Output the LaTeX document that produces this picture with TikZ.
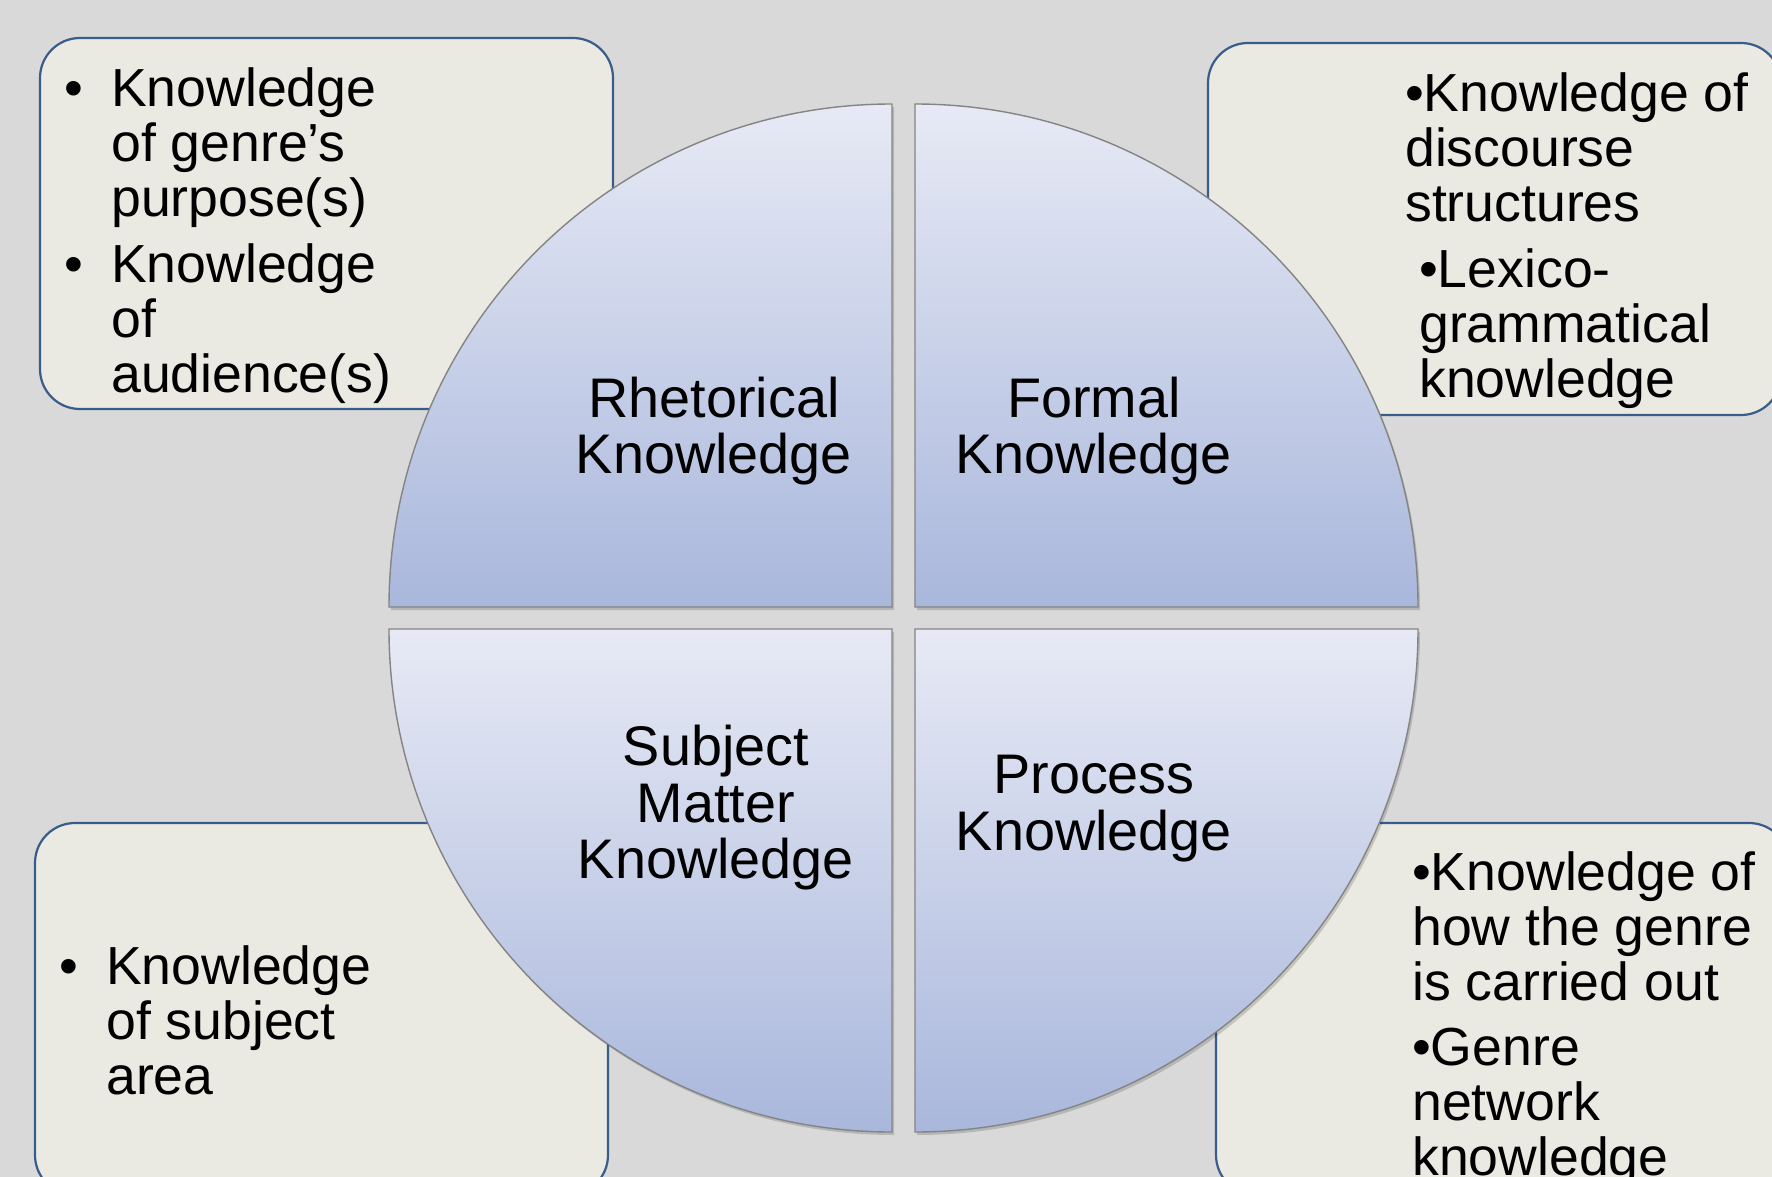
\documentclass[tikz,border=0pt]{standalone}
\usepackage{fontspec}
\setmainfont{Liberation Sans}
\definecolor{bg}{HTML}{D9D9D9}
\definecolor{boxfill}{HTML}{EAEAE2}
\definecolor{boxline}{HTML}{385D8A}
\definecolor{slicetop}{HTML}{E7EAF5}
\definecolor{slicebot}{HTML}{A9B7DC}
\definecolor{sliceline}{HTML}{848484}
\begin{document}
\begin{tikzpicture}[x=1pt,y=-1pt,
  note/.style={draw=boxline, line width=2.2pt, fill=boxfill, rounded corners=40pt},
  slice/.style={draw=sliceline, line width=1.4pt, top color=slicetop, bottom color=slicebot},
  sliceshadow/.style={fill=black, opacity=0.16},
  item/.style={anchor=base west, inner sep=0pt, font=\fontsize{53.6}{55}\selectfont},
  label/.style={anchor=base, inner sep=0pt, font=\fontsize{55.8}{56}\selectfont}]
\useasboundingbox (0,0) rectangle (1772,1177);
\clip (0,0) rectangle (1772,1177);
\fill[bg] (0,0) rectangle (1772,1177);

% four note cards behind the circle
\path[note] (40,38) rectangle (613,409);
\path[note] (1208,43) rectangle (1781,415);
\path[note] (35,823) rectangle (608,1195);
\path[note] (1216,823) rectangle (1789,1195);

% soft shadows of the four slices
\begin{scope}[shift={(2,3)}]
  \fill[sliceshadow] (892,607) -- (389,607) arc[start angle=180, end angle=270, radius=503] -- cycle;
  \fill[sliceshadow] (915,607) -- (915,104) arc[start angle=270, end angle=360, radius=503] -- cycle;
  \fill[sliceshadow] (892,629) -- (892,1132) arc[start angle=90, end angle=180, radius=503] -- cycle;
  \fill[sliceshadow] (915,629) -- (1418,629) arc[start angle=0, end angle=90, radius=503] -- cycle;
\end{scope}

% the circle, cut into four slices
\path[slice] (892,607) -- (389,607) arc[start angle=180, end angle=270, radius=503] -- cycle;
\path[slice] (915,607) -- (915,104) arc[start angle=270, end angle=360, radius=503] -- cycle;
\path[slice] (892,629) -- (892,1132) arc[start angle=90, end angle=180, radius=503] -- cycle;
\path[slice] (915,629) -- (1418,629) arc[start angle=0, end angle=90, radius=503] -- cycle;

% slice labels
\node[label] (rk1) at (714,417) {Rhetorical};
\node[label] (rk2) at (714,473) {Knowledge};
\node[label] (fk1) at (1094,417) {Formal};
\node[label] (fk2) at (1094,473) {Knowledge};
\node[label] (sk1) at (716,765) {Subject};
\node[label] (sk2) at (716,822) {Matter};
\node[label] (sk3) at (716,878) {Knowledge};
\node[label] (pk1) at (1094,793) {Process};
\node[label] (pk2) at (1094,850) {Knowledge};

% rhetorical note
\node[item] (tl1) at (111,107) {\llap{•\hspace{28pt}}Knowledge};
\node[item] (tl2) at (111,162) {of genre’s};
\node[item] (tl3) at (111,217) {purpose(s)};
\node[item] (tl4) at (111,282) {\llap{•\hspace{28pt}}Knowledge};
\node[item] (tl5) at (111,337) {of};
\node[item] (tl6) at (111,392) {audience(s)};

% formal note
\node[item] (tr1) at (1405,112) {•Knowledge of};
\node[item] (tr2) at (1405,167) {discourse};
\node[item] (tr3) at (1405,222) {structures};
\node[item] (tr4) at (1419,287) {•Lexico-};
\node[item] (tr5) at (1419,342) {grammatical};
\node[item] (tr6) at (1419,397) {knowledge};

% subject matter note
\node[item] (bl1) at (106,984) {\llap{•\hspace{28pt}}Knowledge};
\node[item] (bl2) at (106,1039) {of subject};
\node[item] (bl3) at (106,1094) {area};

% process note
\node[item] (br1) at (1412,890) {•Knowledge of};
\node[item] (br2) at (1412,945) {how the genre};
\node[item] (br3) at (1412,1000) {is carried out};
\node[item] (br4) at (1412,1065) {•Genre};
\node[item] (br5) at (1412,1120) {network};
\node[item] (br6) at (1412,1175) {knowledge};
\end{tikzpicture}
\end{document}
